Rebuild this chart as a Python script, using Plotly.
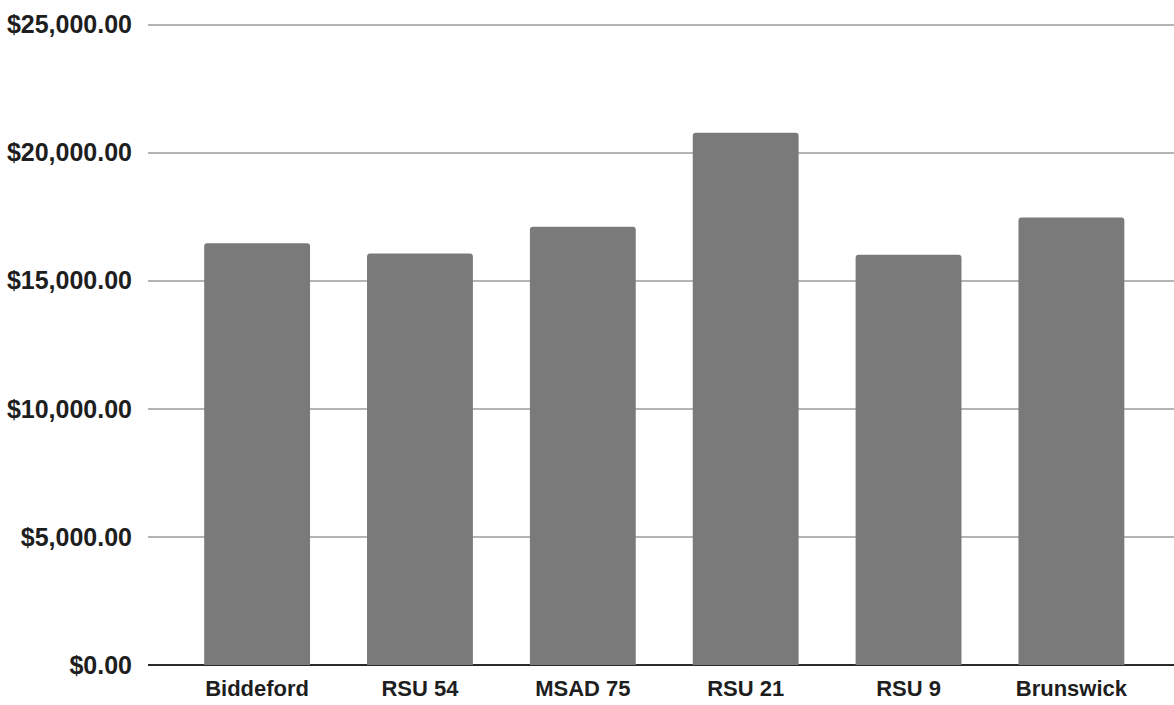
import plotly.graph_objects as go

districts = ["Biddeford", "RSU 54", "MSAD 75", "RSU 21", "RSU 9", "Brunswick"]
per_pupil = [16460, 16060, 17110, 20780, 16010, 17470]
y_ticks = [0, 5000, 10000, 15000, 20000, 25000]
y_tick_labels = ["$0.00", "$5,000.00", "$10,000.00", "$15,000.00", "$20,000.00", "$25,000.00"]

fig = go.Figure(go.Bar(
    x=districts, y=per_pupil,
    marker=dict(color="#7a7a7a", line=dict(width=0), cornerradius=3),
))

fig.update_layout(
    width=1174, height=705,
    margin=dict(l=148, r=0, t=23, b=40),
    paper_bgcolor="white", plot_bgcolor="white",
    bargap=0.35,
    showlegend=False,
    font=dict(family="Liberation Sans, Arial, sans-serif", color="#1e1e1e"),
)
fig.update_xaxes(
    range=[-0.67, 5.63], showgrid=False, showline=False, zeroline=False,
    tickfont=dict(size=22, family="Liberation Sans, Arial, sans-serif", weight="bold"),
    ticks="outside", ticklen=4, tickcolor="rgba(0,0,0,0)",
)
fig.update_yaxes(
    range=[0, 25060], tickvals=y_ticks, ticktext=y_tick_labels,
    showgrid=True, gridcolor="#b4b4b4", gridwidth=1.5,
    zeroline=True, zerolinecolor="#2a2a2a", zerolinewidth=2,
    showline=False,
    tickfont=dict(size=25, family="Liberation Sans, Arial, sans-serif", weight="bold"),
    ticks="outside", ticklen=10, tickcolor="rgba(0,0,0,0)",
)

fig.write_html(
    "out.html",
    config={"displayModeBar": False},
    post_script="document.body.style.margin='0';document.body.style.overflow='hidden';",
)
